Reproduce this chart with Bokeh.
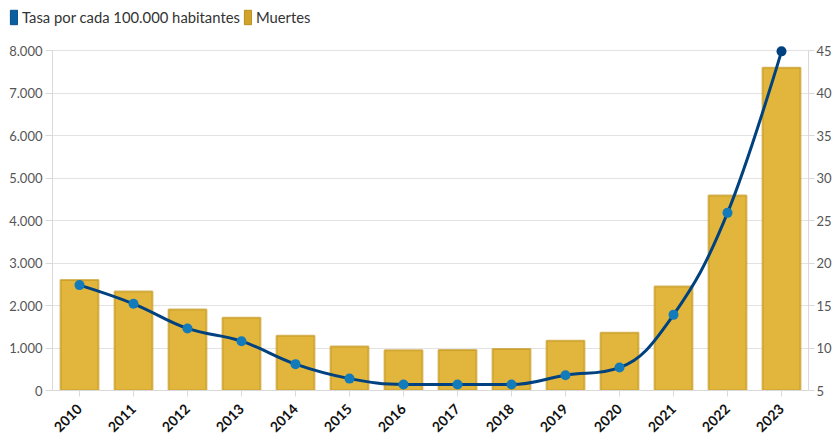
import math
from bokeh.plotting import figure
from bokeh.layouts import column
from bokeh.models import (Range1d, LinearAxis, FixedTicker, CustomJSTickFormatter,
                          Legend, LegendItem, FactorRange)
from bokeh.embed import file_html
from bokeh.resources import INLINE

# ---- data ----
years = ["2010", "2011", "2012", "2013", "2014", "2015", "2016",
         "2017", "2018", "2019", "2020", "2021", "2022", "2023"]
deaths = [2600, 2330, 1905, 1710, 1290, 1035, 945, 955, 975, 1170, 1360, 2445, 4590, 7595]
rate = [17.4, 15.2, 12.3, 10.8, 8.1, 6.4, 5.7, 5.7, 5.7, 6.8, 7.7, 13.9, 25.9, 44.9]
left_ticks = [0, 1000, 2000, 3000, 4000, 5000, 6000, 7000, 8000]
right_ticks = [5, 10, 15, 20, 25, 30, 35, 40, 45]
legend_labels = ["Tasa por cada 100.000 habitantes", "Muertes"]

FONT = "Lato"
GOLD = "#E2B53C"
GOLD_EDGE = "#C4981F"
NAVY = "#00427F"
BLUE = "#137BBA"

W, H = 834, 439
LEG_H = 36
TOP_PAD = 6           # room above the 8000 line so the last marker is not clipped
FRAME_H = 340         # pixel height between 0 and 8000
frac = TOP_PAD / FRAME_H

lo_l, hi_l = left_ticks[0], left_ticks[-1]
lo_r, hi_r = right_ticks[0], right_ticks[-1]

p = figure(x_range=FactorRange(*years, range_padding=0),
           y_range=Range1d(lo_l, hi_l + (hi_l - lo_l) * frac),
           width=W, height=H - LEG_H, output_backend="svg", toolbar_location=None,
           min_border_left=52, min_border_right=0,
           min_border_top=50 - TOP_PAD - LEG_H, min_border_bottom=49)
p.extra_y_ranges = {"rate": Range1d(lo_r, hi_r + (hi_r - lo_r) * frac)}
p.outline_line_color = None
p.background_fill_color = "white"

# bars
p.vbar(x=years, top=deaths, width=0.7, fill_color=GOLD,
       line_color=GOLD_EDGE, line_width=2, line_alpha=0.7)

# smooth spline (Highcharts-style) through rate points
xs = [i + 0.5 for i in range(len(years))]
n = len(xs)
lc = [None] * n
rc = [None] * n
sm = 1.5
den = sm + 1
for i in range(n):
    px, py = xs[i], rate[i]
    if i == 0 or i == n - 1:
        lc[i] = (px, py)
        rc[i] = (px, py)
        continue
    lx, ly = xs[i - 1], rate[i - 1]
    nx, ny = xs[i + 1], rate[i + 1]
    lcx = (sm * px + lx) / den
    lcy = (sm * py + ly) / den
    rcx = (sm * px + nx) / den
    rcy = (sm * py + ny) / den
    if rcx != lcx:
        corr = ((rcy - lcy) * (rcx - px)) / (rcx - lcx) + py - rcy
        lcy += corr
        rcy += corr
    if lcy > ly and lcy > py:
        lcy = max(ly, py)
        rcy = 2 * py - lcy
    elif lcy < ly and lcy < py:
        lcy = min(ly, py)
        rcy = 2 * py - lcy
    if rcy > ny and rcy > py:
        rcy = max(ny, py)
        lcy = 2 * py - rcy
    elif rcy < ny and rcy < py:
        rcy = min(ny, py)
        lcy = 2 * py - rcy
    lc[i] = (lcx, lcy)
    rc[i] = (rcx, rcy)

p.bezier(x0=xs[:-1], y0=rate[:-1], x1=xs[1:], y1=rate[1:],
         cx0=[c[0] for c in rc[:-1]], cy0=[c[1] for c in rc[:-1]],
         cx1=[c[0] for c in lc[1:]], cy1=[c[1] for c in lc[1:]],
         y_range_name="rate", line_color=NAVY, line_width=3)

marker_colors = [BLUE] * (n - 1) + [NAVY]
p.scatter(x=years, y=rate, y_range_name="rate", size=10,
          fill_color=marker_colors, line_color=None)

# axes
fmt = CustomJSTickFormatter(code="""
return tick.toFixed(0).replace(/\\B(?=(\\d{3})+(?!\\d))/g, '.');
""")
ya = p.yaxis[0]
ya.ticker = FixedTicker(ticks=left_ticks)
ya.formatter = fmt
ya.bounds = (lo_l, hi_l)
ya.axis_line_color = "#D9D9D9"
ya.major_tick_line_color = "#D9D9D9"
ya.major_tick_out = 7
ya.major_tick_in = 0
ya.minor_tick_line_color = None
ya.major_label_standoff = 3
ya.major_label_text_font = FONT
ya.major_label_text_font_size = "13px"
ya.major_label_text_color = "#555555"

ra = LinearAxis(y_range_name="rate", ticker=FixedTicker(ticks=right_ticks))
ra.bounds = (lo_r, hi_r)
ra.axis_line_color = "#D9D9D9"
ra.major_tick_line_color = "#D9D9D9"
ra.major_tick_out = 6
ra.major_tick_in = 0
ra.minor_tick_line_color = None
ra.major_label_standoff = 2
ra.major_label_text_font = FONT
ra.major_label_text_font_size = "13px"
ra.major_label_text_color = "#555555"
p.add_layout(ra, "right")

xa = p.xaxis[0]
xa.axis_line_color = "#D9D9D9"
xa.major_tick_line_color = "#D9D9D9"
xa.major_tick_out = 6
xa.major_tick_in = 0
xa.major_label_orientation = math.pi / 4
xa.major_label_text_font = FONT
xa.major_label_text_font_style = "bold"
xa.major_label_text_font_size = "14px"
xa.major_label_text_color = "#111111"
xa.major_label_standoff = 10

p.ygrid.ticker = FixedTicker(ticks=left_ticks)
p.ygrid.grid_line_color = "#E3E3E3"
p.xgrid.grid_line_color = None

# legend strip above the chart
lg = figure(width=W, height=LEG_H, x_range=Range1d(0, 1), y_range=Range1d(0, 1),
            output_backend="svg", toolbar_location=None,
            min_border=0, x_axis_type=None, y_axis_type=None)
lg.frame_align = False
lg.outline_line_color = None
lg.grid.grid_line_color = None
d1 = lg.quad(left=[-5], right=[-4], bottom=[-5], top=[-4],
             fill_color="#0B5E9F", line_color="#084C86")
d2 = lg.quad(left=[-5], right=[-4], bottom=[-5], top=[-4],
             fill_color="#D2A32A", line_color="#B98E1E")
legend = Legend(items=[LegendItem(label=legend_labels[0], renderers=[d1]),
                       LegendItem(label=legend_labels[1], renderers=[d2])],
                orientation="horizontal", location=(9, LEG_H - 8 - 18),
                border_line_color=None, background_fill_alpha=0,
                glyph_width=9, glyph_height=18, label_standoff=4, spacing=3,
                padding=0, margin=0, label_height=18,
                label_text_font=FONT, label_text_font_size="14.8px",
                label_text_color="#333333")
lg.add_layout(legend, "center")

layout = column(lg, p, spacing=0)
open("out.html", "w").write(file_html(layout, INLINE))
